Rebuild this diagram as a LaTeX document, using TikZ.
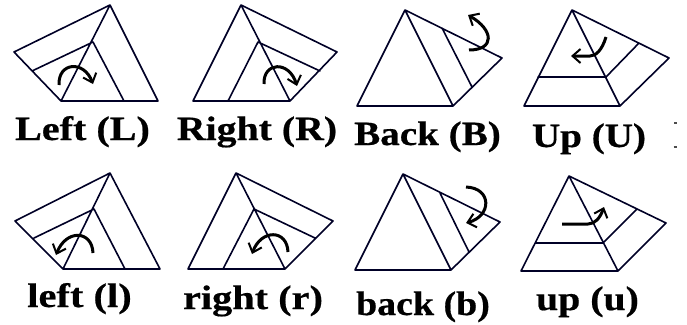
\documentclass[tikz,border=0pt]{standalone}
\usepackage{fontspec}
\setmainfont{Liberation Serif}[BoldFeatures={FakeBold=0.5}]
\usetikzlibrary{arrows.meta}
\tikzset{x=1pt,y=-1pt,
 edge/.style={line width=1.6pt,line cap=round,line join=round,draw=black!85!blue},
 turn/.style={line width=3pt,draw=black,-{Straight Barb[length=8pt,width=14pt,line width=2pt]}},
 lab/.style={font=\bfseries\fontsize{34}{36}\selectfont,inner sep=0pt,anchor=base,transform shape},
 tick/.style={line width=1.6pt,draw=black!70}}
\begin{document}
\begin{tikzpicture}
\useasboundingbox (0,0) rectangle (687,324);
% Left
\coordinate (a) at (110,5); \coordinate (b) at (14,52); \coordinate (c) at (61,101); \coordinate (d) at (158,101);
\coordinate (e) at (93,42); \coordinate (f) at (32,71); \coordinate (g) at (124,101);
\draw[edge] (a)--(b)--(c)--(d)--cycle (a)--(c) (f)--(e)--(g);
\coordinate (a1) at (59,85); \coordinate (a2) at (93,84);
\draw[turn] (a1) .. controls (58,62) and (84,60) .. (a2);
% Right
\coordinate (a) at (241,5); \coordinate (b) at (337,52); \coordinate (c) at (290,101); \coordinate (d) at (193,101);
\coordinate (e) at (258,42); \coordinate (f) at (320,71); \coordinate (g) at (228,101);
\draw[edge] (a)--(b)--(c)--(d)--cycle (a)--(c) (f)--(e)--(g);
\coordinate (a1) at (264,84); \coordinate (a2) at (297,86);
\draw[turn] (a1) .. controls (263,62) and (289,60) .. (a2);
% Back
\coordinate (a) at (405,10); \coordinate (b) at (357,106); \coordinate (c) at (453,106); \coordinate (d) at (502,58);
\coordinate (e) at (442,28); \coordinate (f) at (472,87);
\draw[edge] (a)--(b)--(c)--(d)--cycle (a)--(c) (e)--(f);
\coordinate (a1) at (469,50); \coordinate (a2) at (468,15);
\draw[turn] (a1) .. controls (495,50) and (494,30) .. (a2);
% Up
\coordinate (a) at (572,10); \coordinate (b) at (524,106); \coordinate (c) at (620,106); \coordinate (d) at (669,58);
\coordinate (e) at (538,77); \coordinate (f) at (606,77); \coordinate (g) at (639,43);
\draw[edge] (a)--(b)--(c)--(d)--cycle (a)--(c) (e)--(f)--(g);
\coordinate (a1) at (606,37); \coordinate (a2) at (571,56);
\draw[turn] (a1) .. controls (602,50) and (596,56) .. (590,56) -- (a2);
% left
\coordinate (a) at (110,173); \coordinate (b) at (15,221); \coordinate (c) at (63,269); \coordinate (d) at (160,269);
\coordinate (e) at (94,209); \coordinate (f) at (34,238); \coordinate (g) at (125,269);
\draw[edge] (a)--(b)--(c)--(d)--cycle (a)--(c) (f)--(e)--(g);
\coordinate (a1) at (93,253); \coordinate (a2) at (56,255);
\draw[turn] (a1) .. controls (92,230) and (66,229) .. (a2);
% right
\coordinate (a) at (236,173); \coordinate (b) at (333,221); \coordinate (c) at (285,269); \coordinate (d) at (188,269);
\coordinate (e) at (254,209); \coordinate (f) at (315,238); \coordinate (g) at (223,269);
\draw[edge] (a)--(b)--(c)--(d)--cycle (a)--(c) (f)--(e)--(g);
\coordinate (a1) at (288,252); \coordinate (a2) at (252,254);
\draw[turn] (a1) .. controls (287,229) and (261,229) .. (a2);
% back
\coordinate (a) at (403,174); \coordinate (b) at (355,270); \coordinate (c) at (451,270); \coordinate (d) at (500,222);
\coordinate (e) at (440,193); \coordinate (f) at (469,252);
\draw[edge] (a)--(b)--(c)--(d)--cycle (a)--(c) (e)--(f);
\coordinate (a1) at (466,187); \coordinate (a2) at (466,223);
\draw[turn] (a1) .. controls (492,188) and (492,216) .. (a2);
% up
\coordinate (a) at (569,176); \coordinate (b) at (521,271); \coordinate (c) at (618,271); \coordinate (d) at (666,223);
\coordinate (e) at (536,243); \coordinate (f) at (603,243); \coordinate (g) at (637,209);
\draw[edge] (a)--(b)--(c)--(d)--cycle (a)--(c) (e)--(f)--(g);
\coordinate (a1) at (562,224); \coordinate (a2) at (604,207);
\draw[turn] (a1) -- (588,224) .. controls (595,224) and (600,218) .. (a2);
% labels
\node[lab,xscale=1.18] (L) at (82.5,140) {Left (L)};
\node[lab,xscale=1.17] (R) at (257,140) {Right (R)};
\node[lab,xscale=1.15] (B) at (427.5,145) {Back (B)};
\node[lab,xscale=1.15] (U) at (589,147) {Up (U)};
\node[lab,xscale=1.19] (l) at (79.5,307) {left (l)};
\node[lab,xscale=1.186] (r) at (253,309) {right (r)};
\node[lab,xscale=1.115] (bb) at (423,315) {back (b)};
\node[lab,xscale=1.17] (u) at (587.5,310) {up (u)};
% clipped glyph remnants at the right of the top row
\coordinate (t1) at (674,123); \coordinate (t2) at (677,123);
\coordinate (t3) at (673.5,147); \coordinate (t4) at (676.5,147);
\draw[tick] (t1)--(t2) (t3)--(t4);
\end{tikzpicture}
\end{document}
